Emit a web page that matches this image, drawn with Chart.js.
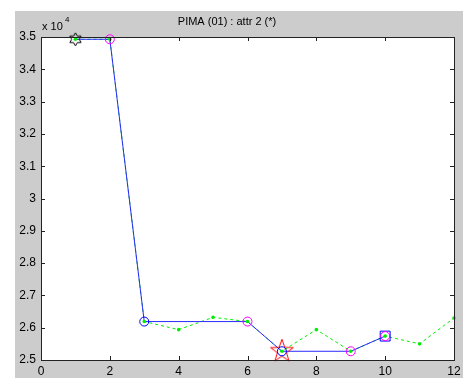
<!DOCTYPE html>
<html>
<head>
<meta charset="utf-8">
<script src="https://cdn.jsdelivr.net/npm/chart.js@4"></script>
<style>
body { margin: 0; background: #fff; }
</style>
</head>
<body>
<canvas id="pimaChart" width="473" height="378"></canvas>
<script>
// Datos (valores reales, el eje muestra x 10^4)
const xValues = [1, 2, 3, 4, 5, 6, 7, 8, 9, 10, 11, 12];
const greenValues = [34930, 34930, 26190, 25940, 26320, 26190, 25270, 25940, 25270, 25740, 25500, 26300];
const blueX = [1, 2, 3, 6, 7, 9, 10];
const blueValues = [34930, 34930, 26190, 26190, 25270, 25270, 25740];
const magentaX = [2, 6, 9, 10];
const blueCircleX = [3, 7];
const squareX = [10];
const pentagramX = [7];
const hexagramX = [1];
const xTicks = [0, 2, 4, 6, 8, 10, 12];
const yTicks = [25000, 26000, 27000, 28000, 29000, 30000, 31000, 32000, 33000, 34000, 35000];

// valor de la línea azul en una x
function blueAt(x) {
    return blueValues[blueX.indexOf(x)];
}
function pts(xs) {
    return xs.map(x => ({ x: x, y: blueAt(x) }));
}
const greenPoints = xValues.map((x, i) => ({ x: x, y: greenValues[i] }));

// estrellas dibujadas en un canvas para usarlas como pointStyle
function makeStar(n, outer, inner, color) {
    const size = Math.ceil(outer * 2 + 4);
    const c = document.createElement('canvas');
    c.width = size; c.height = size;
    const g = c.getContext('2d');
    const cx = size / 2;
    g.beginPath();
    for (let i = 0; i < n * 2; i++) {
        const r = i % 2 ? inner : outer;
        const a = -Math.PI / 2 + i * Math.PI / n;
        const px = cx + r * Math.cos(a), py = cx + r * Math.sin(a);
        if (i === 0) g.moveTo(px, py); else g.lineTo(px, py);
    }
    g.closePath();
    g.strokeStyle = color;
    g.lineWidth = 1;
    g.stroke();
    return c;
}
const pentagram = makeStar(5, 12, 4.8, '#ff0000');
const hexagram = makeStar(6, 6.5, 3.8, '#000000');

// fondo gris, caja de ejes, marcas hacia dentro y "x 10^4"
const matlabFrame = {
    id: 'matlabFrame',
    beforeDraw(chart) {
        const c = chart.ctx, a = chart.chartArea;
        c.save();
        c.fillStyle = '#ffffff';
        c.fillRect(0, 0, chart.width, chart.height);
        c.fillStyle = '#cccccc';
        c.fillRect(15, 11, 448, 367);
        c.fillStyle = '#ffffff';
        c.fillRect(a.left, a.top, a.right - a.left, a.bottom - a.top);
        c.restore();
    },
    afterDraw(chart) {
        const c = chart.ctx, a = chart.chartArea;
        const xs = chart.scales.x, ys = chart.scales.y;
        c.save();
        c.strokeStyle = '#222222';
        c.lineWidth = 1;
        c.strokeRect(a.left + 0.5, a.top + 0.5, a.right - a.left, a.bottom - a.top);
        c.beginPath();
        xTicks.forEach(t => {
            const px = Math.round(xs.getPixelForValue(t)) + 0.5;
            c.moveTo(px, a.bottom); c.lineTo(px, a.bottom - 4);
            c.moveTo(px, a.top); c.lineTo(px, a.top + 4);
        });
        yTicks.forEach(t => {
            const py = Math.round(ys.getPixelForValue(t)) + 0.5;
            c.moveTo(a.left, py); c.lineTo(a.left + 4, py);
            c.moveTo(a.right, py); c.lineTo(a.right - 4, py);
        });
        c.stroke();
        c.fillStyle = '#000000';
        c.textBaseline = 'alphabetic';
        c.font = '11px Arial, "Liberation Sans", sans-serif';
        c.fillText('x 10', 42, 30);
        c.font = '8px Arial, "Liberation Sans", sans-serif';
        c.fillText('4', 65, 22);
        c.restore();
    }
};

const ctx = document.getElementById('pimaChart').getContext('2d');

// el primer dataset se pinta encima
const myChart = new Chart(ctx, {
    type: 'scatter',
    data: {
        datasets: [
            {
                // puntos verdes
                data: greenPoints,
                pointRadius: 1.8,
                pointBackgroundColor: '#00ee00',
                pointBorderWidth: 0,
                clip: false
            },
            {
                data: pts(magentaX),
                pointStyle: 'circle',
                pointRadius: 4.5,
                pointBorderColor: '#ff00ff',
                pointBackgroundColor: 'rgba(0,0,0,0)',
                pointBorderWidth: 1,
                clip: false
            },
            {
                data: pts(blueCircleX),
                pointStyle: 'circle',
                pointRadius: 4.5,
                pointBorderColor: '#0000ff',
                pointBackgroundColor: 'rgba(0,0,0,0)',
                pointBorderWidth: 1,
                clip: false
            },
            {
                data: pts(squareX),
                pointStyle: 'rect',
                pointRadius: 7,
                pointBorderColor: '#0000ff',
                pointBackgroundColor: 'rgba(0,0,0,0)',
                pointBorderWidth: 1,
                clip: false
            },
            {
                data: pts(pentagramX),
                pointStyle: pentagram,
                clip: false
            },
            {
                data: pts(hexagramX),
                pointStyle: hexagram,
                clip: false
            },
            {
                // línea azul continua
                data: pts(blueX),
                showLine: true,
                borderColor: '#2a2aff',
                borderWidth: 1,
                pointRadius: 0,
                clip: false
            },
            {
                // línea verde discontinua
                data: greenPoints,
                showLine: true,
                borderColor: '#00ee00',
                borderWidth: 1,
                borderDash: [3, 3],
                pointRadius: 0,
                clip: false
            }
        ]
    },
    options: {
        responsive: false,
        animation: false,
        layout: {
            padding: { left: 0, right: 19, top: 0, bottom: 0 }
        },
        plugins: {
            legend: { display: false },
            tooltip: { enabled: false },
            title: {
                display: true,
                text: 'PIMA (01) : attr 2 (*)',
                color: '#000000',
                font: { family: 'Arial, "Liberation Sans", sans-serif', size: 11, weight: 'normal', lineHeight: 1.2 },
                padding: { top: 15, bottom: 8.8 }
            }
        },
        scales: {
            x: {
                type: 'linear',
                min: 0,
                max: 12,
                afterFit: (scale) => { scale.height = 18; },
                afterBuildTicks: (scale) => { scale.ticks = xTicks.map(v => ({ value: v })); },
                grid: { display: false, drawTicks: false },
                border: { display: false },
                ticks: {
                    color: '#000000',
                    padding: 4,
                    font: { family: 'Arial, "Liberation Sans", sans-serif', size: 12 }
                }
            },
            y: {
                type: 'linear',
                min: 25000,
                max: 35000,
                afterFit: (scale) => { scale.width = 41; },
                afterBuildTicks: (scale) => { scale.ticks = yTicks.map(v => ({ value: v })); },
                grid: { display: false, drawTicks: false },
                border: { display: false },
                ticks: {
                    color: '#000000',
                    padding: 5,
                    font: { family: 'Arial, "Liberation Sans", sans-serif', size: 12 },
                    callback: (v) => (v / 10000).toString()
                }
            }
        }
    },
    plugins: [matlabFrame]
});
</script>
</body>
</html>
